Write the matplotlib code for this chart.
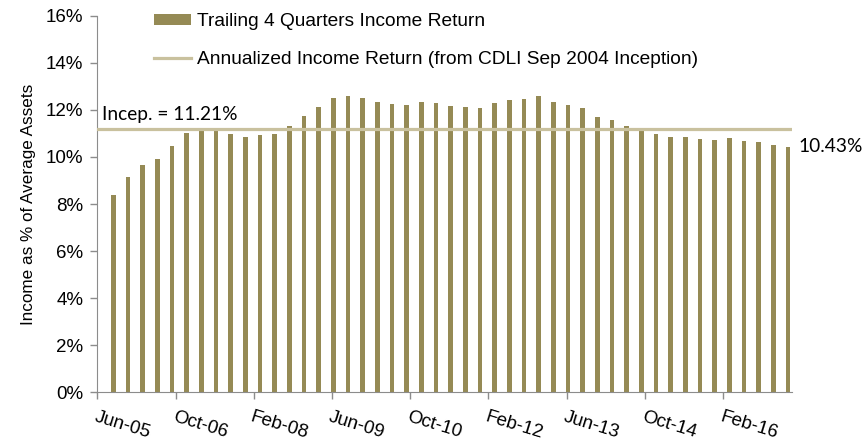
import numpy as np
import matplotlib
matplotlib.use("Agg")
import matplotlib.pyplot as plt

# trailing 4 quarter income return, quarterly (first bar ~ Q3 2005), in %
income_return = [8.38, 9.16, 9.64, 9.93, 10.47, 11.01, 11.18, 11.18, 10.96, 10.85,
                 10.94, 10.96, 11.33, 11.73, 12.13, 12.52, 12.60, 12.50, 12.34, 12.26,
                 12.23, 12.34, 12.30, 12.17, 12.14, 12.09, 12.30, 12.41, 12.48, 12.58,
                 12.33, 12.21, 12.07, 11.69, 11.57, 11.31, 11.09, 10.99, 10.84, 10.87,
                 10.77, 10.72, 10.79, 10.67, 10.63, 10.52, 10.43]
inception_return = 11.21
tick_labels = ['Jun-05', 'Oct-06', 'Feb-08', 'Jun-09', 'Oct-10',
               'Feb-12', 'Jun-13', 'Oct-14', 'Feb-16']
y_ticks = [0, 2, 4, 6, 8, 10, 12, 14, 16]

bar_color = '#958a55'
line_color = '#c9c19e'
axis_color = '#8c8c8c'

plt.rcParams['font.family'] = ['Liberation Sans', 'DejaVu Sans']

fig = plt.figure(figsize=(8.67, 4.43), dpi=100)
ax = fig.add_axes([0.1122, 0.1151, 0.8013, 0.8488])

# x axis in months from Jun-05, bars one per quarter
months = 3.3 + 3 * np.arange(len(income_return))
bars = ax.bar(months, income_return, width=0.95, color=bar_color, zorder=2)
line = ax.axhline(inception_return, color=line_color, lw=2.3, zorder=3,
                  xmax=(months[-1] + 0.6) / 142.1)

ax.set_xlim(0, 142.1)
ax.set_ylim(0, 16)
ax.set_yticks(y_ticks)
ax.set_yticklabels(['%d%%' % v for v in y_ticks], fontsize=13.5)
ax.set_xticks(16 * np.arange(len(tick_labels)))
ax.set_xticklabels(tick_labels, fontsize=13.5, rotation=-17, ha='left', va='top',
                   rotation_mode='anchor')
ax.set_ylabel('Income as % of Average Assets', fontsize=12.3, labelpad=7)

for s in ['top', 'right']:
    ax.spines[s].set_visible(False)
for s in ['left', 'bottom']:
    ax.spines[s].set_color(axis_color)
ax.tick_params(axis='both', colors=axis_color, length=5, width=1, labelcolor='black')
ax.tick_params(axis='x', pad=7)
ax.tick_params(axis='y', pad=5)

ax.text(1, inception_return + 0.22, 'Incep. = %.2f%%' % inception_return,
        fontsize=13.8, family='Lato', va='bottom', ha='left')
ax.text(months[-1] + 2.2, income_return[-1], '%.2f%%' % income_return[-1],
        fontsize=13.8, family='Lato', va='center', ha='left', clip_on=False)

ax.legend([bars, line],
          ['Trailing 4 Quarters Income Return',
           'Annualized Income Return (from CDLI Sep 2004 Inception)'],
          loc='upper left', bbox_to_anchor=(0.1776, 0.97),
          bbox_transform=fig.transFigure, frameon=False, fontsize=13.75,
          handlelength=1.95, handleheight=0.5, handletextpad=0.3,
          labelspacing=1.1, borderpad=0, borderaxespad=0)

fig.savefig('out.png', dpi=100)
